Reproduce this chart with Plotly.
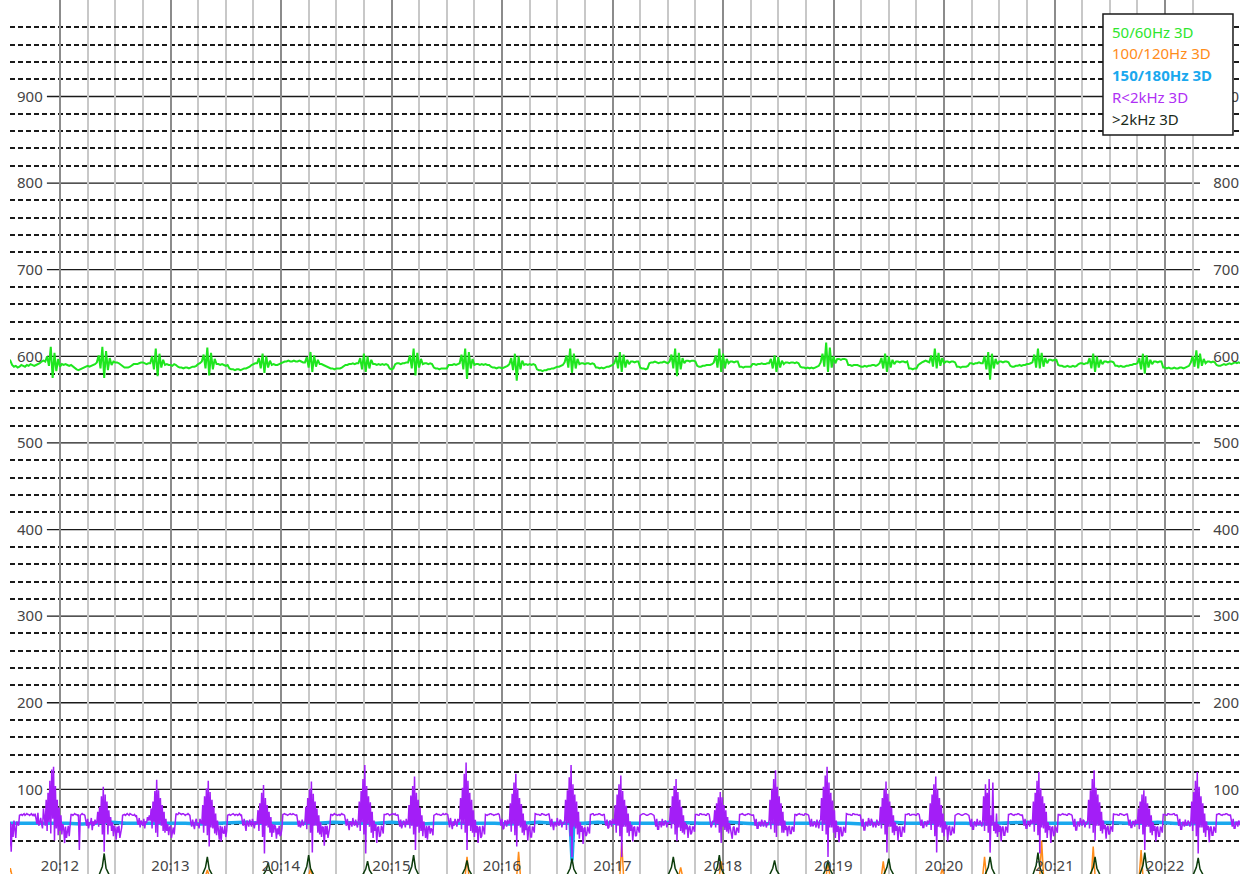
import pandas as pd
import plotly.graph_objects as go

BASE = pd.Timestamp("2024-01-01 20:12:00")

# Start (seconds after 20:12:00) of each stretch of samples
seg_start = [-28, -8, 20, 49, 77, 107, 133, 162, 189, 217, 244, 274,
             301, 331, 355, 385, 413, 445, 472, 501, 528, 558, 585, 614]
GREEN_STEP = 1.0    # seconds between 50/60Hz samples
PURPLE_STEP = 0.5   # seconds between R<2kHz samples

# 50/60Hz 3D
green_rows = [
    [597, 595, 590, 588, 589, 587, 588, 590, 589, 588, 590, 589, 591, 590, 589, 590, 591, 592, 594, 595],
    [594, 600, 589, 611, 575, 604, 583, 597, 588, 591, 590, 591, 590, 589, 590, 588, 586, 585, 584, 585, 586, 587, 588, 589, 588, 589, 590, 591],
    [593, 601, 586, 611, 575, 606, 584, 598, 590, 594, 593, 593, 592, 590, 588, 587, 587, 587, 588, 590, 591, 591, 591, 592, 593, 593, 592, 591, 592],
    [592, 600, 585, 609, 577, 603, 587, 596, 590, 591, 590, 590, 589, 591, 590, 588, 587, 587, 586, 587, 587, 586, 587, 588, 588, 589, 591, 592],
    [594, 602, 586, 610, 578, 604, 585, 597, 591, 591, 590, 591, 590, 589, 590, 586, 585, 585, 584, 585, 585, 584, 585, 586, 586, 587, 588, 590, 591, 592],
    [592, 598, 586, 603, 581, 600, 587, 595, 590, 591, 590, 590, 591, 592, 593, 594, 594, 595, 594, 594, 595, 594, 594, 595, 594, 593],
    [593, 599, 587, 605, 582, 601, 588, 596, 591, 591, 590, 589, 588, 587, 586, 586, 585, 586, 586, 586, 587, 589, 590, 590, 591, 591, 592, 591, 592],
    [592, 598, 585, 603, 582, 600, 586, 596, 591, 591, 590, 591, 590, 591, 590, 591, 590, 586, 585, 586, 591, 592, 592, 591, 592, 592, 593],
    [593, 601, 586, 609, 578, 604, 587, 597, 591, 592, 592, 591, 592, 591, 587, 586, 586, 585, 586, 586, 586, 586, 590, 590, 590, 591, 590, 591],
    [592, 602, 585, 609, 574, 605, 586, 597, 590, 591, 591, 590, 591, 590, 591, 590, 590, 588, 587, 587, 586, 587, 587, 586, 587, 588, 589],
    [591, 598, 584, 603, 572, 600, 585, 595, 590, 591, 590, 591, 590, 591, 590, 585, 584, 584, 583, 584, 584, 585, 585, 586, 586, 587, 588, 588, 589, 590],
    [593, 601, 587, 609, 581, 603, 586, 597, 591, 592, 592, 591, 592, 592, 591, 592, 591, 587, 587, 586, 587, 586, 587, 588, 588, 589, 590],
    [592, 599, 586, 605, 582, 602, 587, 596, 591, 594, 594, 593, 594, 594, 587, 586, 586, 585, 586, 592, 593, 593, 594, 593, 592, 593, 593, 594, 593, 592],
    [594, 602, 586, 609, 577, 604, 585, 598, 592, 595, 595, 594, 595, 595, 594, 589, 588, 588, 589, 589, 590, 590, 590, 591],
    [593, 601, 587, 609, 582, 603, 586, 597, 592, 594, 594, 593, 594, 594, 588, 588, 587, 588, 588, 588, 588, 591, 591, 590, 591, 591, 592, 591, 591, 592],
    [592, 597, 586, 601, 582, 599, 587, 595, 591, 593, 593, 592, 593, 593, 592, 593, 592, 588, 587, 587, 586, 587, 586, 587, 586, 587, 588, 589],
    [593, 603, 588, 616, 582, 610, 587, 600, 592, 597, 597, 596, 597, 597, 596, 590, 590, 589, 590, 590, 590, 589, 588, 588, 589, 588, 589, 589, 590, 590, 589, 590],
    [592, 598, 586, 603, 582, 600, 587, 596, 591, 594, 594, 593, 594, 594, 593, 594, 586, 586, 585, 586, 586, 590, 592, 593, 594, 595, 594],
    [593, 601, 588, 609, 586, 604, 589, 598, 592, 594, 594, 593, 594, 594, 593, 588, 588, 587, 588, 588, 588, 589, 592, 592, 591, 592, 592, 593, 592],
    [592, 600, 585, 605, 573, 603, 586, 597, 591, 594, 594, 593, 594, 594, 593, 589, 588, 588, 589, 589, 590, 589, 590, 590, 591, 591, 592],
    [593, 602, 587, 609, 586, 604, 588, 598, 592, 596, 596, 595, 596, 596, 590, 589, 589, 588, 588, 589, 588, 588, 589, 588, 589, 591, 592, 592, 591, 592],
    [592, 598, 586, 603, 582, 600, 587, 596, 591, 594, 594, 593, 594, 594, 593, 589, 589, 588, 589, 588, 588, 589, 589, 590, 590, 591, 591],
    [592, 598, 585, 603, 580, 601, 587, 596, 591, 594, 594, 593, 594, 594, 587, 587, 586, 587, 586, 586, 587, 586, 586, 587, 587, 586, 587, 588, 589],
    [593, 600, 588, 607, 586, 603, 589, 597, 592, 594, 594, 593, 594, 593, 590, 589, 589, 590, 591, 590, 591, 592, 591, 592, 593, 592, 593, 592],
]

# R<2kHz 3D
purple_rows = [
    [58, 34, 62, 28, 60, 45, 64, 52, 44, 63, 61, 58, 70, 71, 71, 70, 71, 72, 70, 71,
     72, 71, 71, 70, 71, 72, 70, 71, 69, 72, 66, 60, 73, 58, 62, 67, 60, 55, 78, 64],
    [58, 88, 52, 96, 62, 110, 49, 123, 66, 126, 41, 104, 55, 88, 47, 79, 52, 70,
     48, 60, 55, 38, 57, 44, 50, 58, 46, 55,
     71, 71, 70, 71, 72, 71, 71, 70, 71, 30, 70, 71, 72, 71, 71, 70,
     64, 58, 66, 55, 62, 60, 67, 53, 63, 58, 65, 60],
    [62, 74, 57, 80, 60, 92, 48, 103, 28, 94, 61, 86, 48, 76, 58, 68, 52, 62,
     46, 58, 54, 42, 57, 50, 58, 44, 50, 56,
     70, 71, 71, 70, 71, 72, 71, 70, 72, 71, 71, 70, 70, 71, 69, 70,
     63, 59, 67, 56, 64, 61, 58, 66, 55, 63, 61, 68, 64, 70],
    [64, 78, 55, 86, 62, 98, 50, 111, 45, 99, 60, 90, 58, 82, 52, 74, 50, 66,
     52, 60, 47, 56, 58, 44, 53, 56, 48, 58,
     72, 71, 71, 73, 72, 72, 71, 72, 72, 71, 70, 71, 71, 72, 71, 70,
     62, 57, 65, 60, 54, 63, 66, 58, 61, 55, 66, 62],
    [60, 82, 50, 92, 58, 101, 47, 110, 34, 97, 56, 88, 55, 80, 49, 72, 47, 64,
     54, 42, 58, 40, 57, 50, 49, 58, 45, 52,
     70, 71, 71, 70, 71, 72, 72, 71, 70, 71, 71, 70, 71, 72, 70, 71,
     63, 58, 66, 55, 52, 64, 61, 57, 65, 59, 57, 66, 62, 55, 63, 60],
    [61, 76, 52, 84, 60, 96, 45, 105, 26, 90, 58, 82, 56, 74, 50, 68, 45, 60,
     50, 59, 57, 43, 55, 48, 58, 46, 48, 55,
     71, 72, 72, 71, 71, 70, 71, 71, 72, 71, 71, 72, 71, 70, 70, 71,
     62, 57, 64, 56, 59, 65, 58, 62],
    [63, 80, 54, 90, 60, 100, 50, 109, 27, 95, 58, 86, 58, 78, 50, 70, 48, 62,
     45, 57, 56, 35, 58, 48, 58, 44, 50, 57,
     71, 71, 70, 71, 72, 71, 71, 70, 71, 71, 70, 71, 72, 71, 71, 70,
     64, 58, 66, 55, 53, 63, 62, 57, 67, 60, 58, 65, 60, 56],
    [65, 86, 52, 98, 62, 112, 48, 128, 26, 104, 60, 92, 57, 85, 50, 74, 44, 64,
     52, 60, 38, 56, 57, 45, 47, 58, 55, 49,
     71, 71, 71, 72, 72, 71, 70, 71, 71, 72, 71, 71, 72, 70, 70, 71,
     63, 57, 65, 55, 59, 64, 62, 56, 66, 60],
    [60, 82, 55, 93, 58, 104, 48, 115, 30, 96, 57, 88, 50, 79, 52, 70, 46, 63,
     55, 44, 58, 42, 56, 58, 49, 55, 53, 47,
     70, 71, 72, 72, 71, 71, 71, 70, 70, 71, 72, 71, 71, 72, 71, 71,
     64, 56, 67, 58, 54, 63, 58, 66, 61, 57, 66, 62],
    [66, 90, 54, 102, 60, 118, 50, 131, 30, 110, 58, 96, 52, 88, 50, 76, 45, 65,
     50, 58, 38, 56, 57, 44, 46, 58, 54, 48,
     71, 70, 70, 71, 71, 72, 72, 71, 71, 70, 71, 71, 71, 72, 72, 71,
     62, 58, 66, 54, 55, 64, 63, 57, 65, 60],
    [62, 84, 51, 95, 60, 108, 47, 118, 34, 101, 58, 90, 56, 83, 50, 72, 47, 64,
     53, 59, 41, 56, 58, 45, 45, 57, 55, 50,
     72, 71, 71, 71, 71, 70, 70, 72, 72, 71, 71, 70, 70, 71, 71, 72,
     63, 57, 66, 55, 53, 62, 61, 57, 67, 60, 58, 65, 64, 56, 62, 60],
    [64, 88, 53, 99, 61, 114, 46, 128, 22, 106, 57, 94, 55, 86, 48, 74, 43, 62,
     51, 58, 37, 55, 56, 46, 48, 57, 54, 49,
     71, 71, 72, 72, 70, 71, 71, 71, 71, 72, 72, 71, 70, 70, 71, 71,
     62, 58, 65, 55, 56, 64, 63, 57, 66, 61],
    [61, 82, 50, 94, 58, 106, 46, 116, 22, 98, 57, 88, 57, 81, 50, 72, 46, 63,
     52, 59, 40, 56, 57, 46, 47, 57, 55, 50,
     70, 71, 71, 72, 72, 71, 71, 70, 70, 71, 71, 72, 72, 71, 71, 70,
     64, 57, 66, 54, 54, 63, 62, 56, 66, 59, 59, 64, 63, 56, 62, 60],
    [63, 80, 55, 92, 60, 104, 48, 112, 40, 97, 56, 88, 52, 80, 50, 70, 48, 62,
     54, 59, 44, 56, 58, 48, 50, 57, 56, 51,
     71, 71, 71, 70, 70, 72, 72, 71, 71, 71, 71, 70, 70, 72, 72, 71,
     62, 56, 59, 64],
    [62, 76, 56, 84, 60, 91, 50, 97, 38, 91, 57, 82, 53, 76, 51, 68, 49, 61,
     55, 47, 43, 56, 57, 48, 48, 56, 54, 50,
     71, 71, 72, 72, 71, 70, 70, 71, 71, 72, 72, 71, 71, 70, 70, 71,
     63, 58, 66, 55, 55, 62, 62, 57, 65, 60, 57, 64, 63, 56, 61, 59],
    [64, 88, 54, 100, 60, 112, 50, 122, 45, 103, 58, 92, 58, 84, 50, 74, 50, 64,
     53, 58, 46, 56, 58, 49, 49, 57, 55, 51,
     71, 71, 70, 71, 72, 72, 71, 71, 71, 70, 70, 72, 72, 71, 71, 70,
     62, 57, 66, 58, 58, 63, 61, 56, 65, 60, 55, 64],
    [65, 90, 52, 103, 60, 116, 48, 126, 22, 108, 56, 96, 56, 87, 50, 76, 44, 64,
     51, 58, 39, 56, 56, 46, 47, 57, 54, 50,
     72, 71, 71, 71, 71, 70, 70, 72, 72, 71, 71, 71, 71, 70, 70, 71,
     64, 57, 66, 53, 53, 62, 62, 57, 67, 60, 58, 66, 63, 56, 62, 60, 56, 65, 61, 58],
    [62, 80, 55, 90, 60, 100, 48, 109, 27, 95, 57, 86, 57, 79, 50, 70, 47, 62,
     52, 58, 41, 56, 57, 46, 46, 57, 55, 50,
     71, 71, 71, 72, 72, 70, 70, 71, 71, 71, 71, 70, 70, 72, 72, 71,
     63, 58, 65, 56, 56, 63, 62, 57, 64, 60],
    [63, 84, 53, 94, 60, 106, 46, 115, 27, 100, 57, 90, 56, 82, 50, 72, 46, 63,
     54, 59, 40, 56, 58, 47, 48, 57, 53, 49,
     70, 71, 71, 72, 72, 71, 71, 70, 70, 71, 71, 72, 72, 71, 71, 70,
     64, 57, 66, 54, 54, 63, 62, 57, 66, 60, 59, 64, 61, 57],
    [64, 92, 52, 106, 58, 96, 50, 112, 27, 70, 58, 108, 52, 62, 49, 72, 45, 60,
     51, 58, 40, 56, 57, 47, 47, 57, 55, 50,
     71, 71, 72, 72, 71, 70, 70, 71, 71, 71, 72, 72, 71, 70, 70, 71,
     62, 58, 66, 55, 55, 63, 63, 57, 65, 60],
    [62, 86, 51, 96, 60, 110, 47, 120, 26, 101, 56, 92, 55, 84, 50, 74, 44, 62,
     53, 58, 38, 56, 57, 46, 48, 57, 54, 50,
     71, 71, 70, 71, 72, 72, 71, 71, 71, 70, 70, 72, 72, 71, 71, 70,
     63, 57, 66, 53, 53, 62, 62, 57, 67, 60, 58, 65, 64, 56, 62, 60],
    [64, 88, 55, 99, 60, 112, 50, 122, 41, 102, 58, 94, 58, 85, 52, 74, 49, 64,
     54, 59, 43, 56, 58, 48, 49, 57, 56, 51,
     72, 71, 71, 71, 71, 70, 70, 72, 72, 71, 71, 70, 70, 71, 71, 72,
     62, 58, 65, 56, 56, 63, 63, 57, 65, 60],
    [61, 78, 54, 86, 60, 94, 48, 99, 30, 92, 57, 84, 57, 78, 50, 70, 47, 62,
     52, 58, 40, 56, 57, 46, 46, 57, 55, 50,
     71, 71, 71, 70, 70, 72, 72, 71, 71, 71, 71, 72, 72, 70, 70, 71,
     63, 58, 66, 54, 54, 62, 62, 57, 65, 59, 59, 64, 62, 57],
    [63, 86, 52, 97, 60, 110, 46, 120, 26, 103, 56, 92, 56, 84, 50, 72, 45, 63,
     53, 58, 39, 56, 57, 47, 47, 57, 54, 50,
     71, 71, 72, 72, 71, 70, 70, 71, 71, 71, 72, 72, 71, 70, 70, 71,
     63, 57, 66, 55, 55, 62, 62, 57, 64, 60, 58, 61],
]

# 150/180Hz 3D
cyan_t = [-28, -20, -12, -4, 4, 12, 20, 28, 36, 44, 52, 60, 68, 76, 84, 92, 100, 108, 116, 124,
          132, 140, 148, 156, 164, 172, 180, 188, 196, 204, 212, 220, 228, 236, 244, 252, 260, 268, 276,
          277, 278, 279,
          284, 292, 300, 308, 316, 324, 332, 340, 348, 356, 364, 372, 380, 388, 396, 404, 412, 420, 428, 436,
          444, 452, 460, 468, 476, 484, 492, 500, 508, 516, 524, 532, 540, 548, 556, 564, 572, 580, 588, 596,
          604, 612, 620, 628, 636, 644]
cyan_v = [61, 61, 62, 61, 61, 60, 61, 62, 61, 61, 61, 62, 61, 60, 61, 61, 62, 61, 61, 61,
          60, 61, 62, 61, 61, 61, 62, 61, 60, 61, 61, 62, 61, 61, 60, 61, 62, 61, 61,
          61, 18, 61,
          61, 62, 61, 61, 60, 61, 62, 61, 61, 61, 62, 61, 60, 61, 61, 62, 61, 61, 61, 60,
          61, 62, 61, 61, 61, 62, 61, 60, 61, 61, 62, 61, 61, 60, 61, 62, 61, 61, 61, 62,
          61, 60, 61, 61, 62, 61]

# 100/120Hz 3D
orange_t = [-28, -27, -26, 79, 80, 81, 135, 136, 137, 220, 221, 222, 248, 249, 250,
            304, 305, 306, 336, 337, 338, 358, 359, 360, 416, 417, 418, 446, 447, 448,
            478, 479, 480, 501, 502, 503, 532, 533, 534, 560, 561, 562, 586, 587, 588, 641]
orange_v = [0, 9, 0, 0, 7, 0, 0, 8, 0, 0, 22, 0, 0, 28, 0,
            0, 38, 0, 0, 10, 0, 0, 17, 0, 0, 17, 0, 0, 17, 0,
            0, 8, 0, 0, 22, 0, 0, 41, 0, 0, 34, 0, 0, 30, 0, 0]

# >2kHz 3D
dark_t = [-28,
          21, 23, 24, 25, 27, 77, 79, 80, 81, 83, 110, 112, 113, 114, 116,
          132, 134, 135, 136, 138, 164, 166, 167, 168, 170, 189, 191, 192, 193, 195,
          218, 220, 221, 222, 224, 275, 277, 278, 279, 281, 330, 332, 333, 334, 336,
          355, 357, 358, 359, 361, 385, 387, 388, 389, 391, 414, 416, 417, 418, 420,
          447, 449, 450, 451, 453, 502, 504, 505, 506, 508, 528, 530, 531, 532, 534,
          559, 561, 562, 563, 565, 586, 588, 589, 590, 592, 615, 617, 618, 619, 621,
          641]
dark_v = [0,
          0, 11, 26, 9, 0, 0, 10, 22, 8, 0, 0, 7, 15, 6, 0,
          0, 11, 24, 9, 0, 0, 8, 17, 7, 0, 0, 11, 24, 9, 0,
          0, 9, 18, 7, 0, 0, 9, 20, 8, 0, 0, 10, 22, 9, 0,
          0, 11, 24, 9, 0, 0, 9, 18, 7, 0, 0, 9, 18, 8, 0,
          0, 10, 20, 8, 0, 0, 10, 22, 9, 0, 0, 12, 27, 10, 0,
          0, 10, 22, 9, 0, 0, 12, 27, 10, 0, 0, 10, 21, 8, 0,
          0]

series_names = ["50/60Hz 3D", "100/120Hz 3D", "150/180Hz 3D", "R<2kHz 3D", ">2kHz 3D"]
series_colors = ["#1ee61e", "#ff8c1a", "#1aa8ee", "#a31ef7", "#0b3b0b"]
legend_text_colors = ["#2ee62e", "#ff8c1a", "#1aa8ee", "#b030f5", "#1a2a1a"]

y_ticks = [100, 200, 300, 400, 500, 600, 700, 800, 900]
dash_levels = [v for v in range(20, 1000, 20) if v % 100 != 0]


def to_time(secs):
    return [BASE + pd.Timedelta(seconds=s) for s in secs]


def expand(rows, step):
    secs, vals = [], []
    for start, row in zip(seg_start, rows):
        for i, v in enumerate(row):
            secs.append(start + i * step)
            vals.append(v)
    return to_time(secs), vals


green_x, green_y = expand(green_rows, GREEN_STEP)
purple_x, purple_y = expand(purple_rows, PURPLE_STEP)

fig = go.Figure()
fig.add_trace(go.Scatter(x=green_x, y=green_y, mode="lines", name=series_names[0],
                         line=dict(color=series_colors[0], width=2)))
fig.add_trace(go.Scatter(x=to_time(orange_t), y=orange_v, mode="lines", name=series_names[1],
                         line=dict(color=series_colors[1], width=1.5)))
fig.add_trace(go.Scatter(x=to_time(cyan_t), y=cyan_v, mode="lines", name=series_names[2],
                         line=dict(color=series_colors[2], width=3.5)))
fig.add_trace(go.Scatter(x=purple_x, y=purple_y, mode="lines", name=series_names[3],
                         line=dict(color=series_colors[3], width=1.5)))
fig.add_trace(go.Scatter(x=to_time(dark_t), y=dark_v, mode="lines", name=series_names[4],
                         line=dict(color=series_colors[4], width=1.5)))
# carrier for the right-hand value scale
fig.add_trace(go.Scatter(x=[], y=[], yaxis="y2", showlegend=False, hoverinfo="skip"))

y_range = [2.3, 1011.4]

# solid reference lines at the labelled levels, broken around the labels
shapes = [dict(type="line", xref="paper", yref="y", x0=0.030, x1=0.9675, y0=v, y1=v,
               line=dict(color="#1a1a1a", width=1.3), layer="between") for v in y_ticks]

# boxed legend
shapes.append(dict(type="rect", xref="paper", yref="paper", x0=0.8886, x1=0.9943,
                   y0=0.8455, y1=0.984, line=dict(color="#1a1a1a", width=1.5),
                   fillcolor="white", layer="above"))

legend_y = [0.9634, 0.9388, 0.9142, 0.8890, 0.8644]
annotations = []
for i, (name, col, yy) in enumerate(zip(series_names, legend_text_colors, legend_y)):
    txt = name.replace("<", "&lt;").replace(">", "&gt;")
    if i == 2:
        txt = "<b>" + txt + "</b>"
    annotations.append(dict(x=0.8943, y=yy, xref="paper", yref="paper", text=txt,
                            showarrow=False, xanchor="left", yanchor="middle",
                            font=dict(family="Noto Sans", size=15, color=col)))

fig.update_layout(
    width=1250, height=874,
    margin=dict(l=10, r=10, t=0, b=0),
    paper_bgcolor="white", plot_bgcolor="white",
    showlegend=False,
    font=dict(family="Noto Sans", size=15, color="#1a1a1a"),
    xaxis=dict(
        type="date",
        range=[BASE + pd.Timedelta(seconds=-27.15), BASE + pd.Timedelta(seconds=640.7)],
        tick0="2024-01-01 20:12:00", dtick=60000, tickformat="%H:%M",
        ticklabelposition="inside", ticklabelstandoff=-3, ticks="",
        showline=False, zeroline=False,
        showgrid=True, gridcolor="#8c8c8c", gridwidth=2,
        minor=dict(tick0="2024-01-01 20:12:00", dtick=15000, showgrid=True,
                   gridcolor="#c8c8c8", gridwidth=2),
    ),
    yaxis=dict(
        range=y_range, tickmode="array", tickvals=y_ticks,
        showgrid=False, zeroline=False, showline=False, ticks="",
        ticklabelposition="inside", ticklabelstandoff=4,
        minor=dict(tickmode="array", tickvals=dash_levels, showgrid=True,
                   gridcolor="#1a1a1a", gridwidth=1.5, griddash="5px,3px"),
    ),
    yaxis2=dict(
        range=y_range, overlaying="y", side="right", tickmode="array", tickvals=y_ticks,
        showgrid=False, zeroline=False, showline=False, ticks="",
        ticklabelposition="inside", ticklabelstandoff=-2,
    ),
    shapes=shapes,
    annotations=annotations,
)

fig.write_html("out.html")
